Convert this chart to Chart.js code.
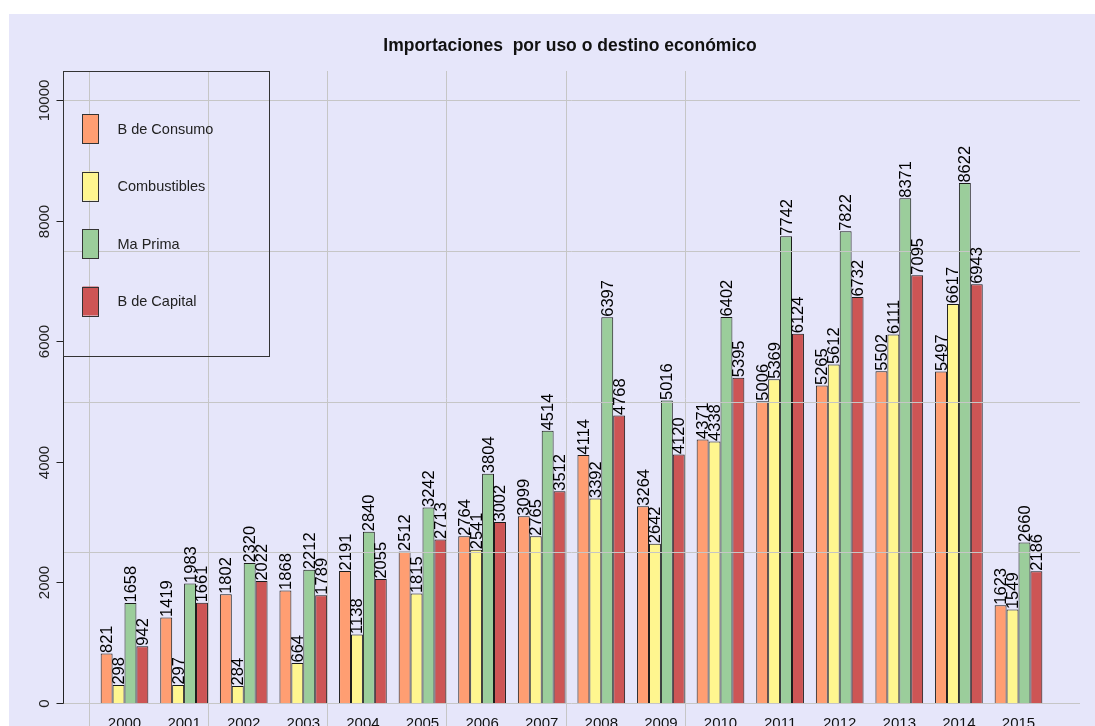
<!DOCTYPE html>
<html><head><meta charset="utf-8">
<script src="https://cdn.jsdelivr.net/npm/chart.js@4.4.1/dist/chart.umd.min.js"></script>
<style>html,body{margin:0;padding:0;background:#fff;overflow:hidden}canvas{display:block}</style>
</head><body>
<canvas id="c" width="1095" height="726"></canvas>
<script>
const years = ['2000','2001','2002','2003','2004','2005','2006','2007','2008','2009','2010','2011','2012','2013','2014','2015'];
const consumo      = [821,1419,1802,1868,2191,2512,2764,3099,4114,3264,4371,5006,5265,5502,5497,1623];
const combustibles = [298,297,284,664,1138,1815,2541,2765,3392,2642,4338,5369,5612,6111,6617,1549];
const maPrima      = [1658,1983,2320,2212,2840,3242,3804,4514,6397,5016,6402,7742,7822,8371,8622,2660];
const capital      = [942,1661,2022,1789,2055,2713,3002,3512,4768,4120,5395,6124,6732,7095,6943,2186];
const seriesNames  = ['B de Consumo','Combustibles','Ma Prima','B de Capital'];
const seriesColors = ['#FF9E72','#FFF68F','#9BCD9B','#CD5555'];
const yTicks = [0,2000,4000,6000,8000,10000];
const hGrid  = [0,2500,5000,7500,10000];
const vGrid  = [0,10,20,30,40,50];
const chartTitle = 'Importaciones  por uso o destino económico';

// barplot coordinates: groups of 4 unit-wide bars separated by one unit
const groupX = years.map((_, i) => 3 + 5 * i);
const allSeries = [consumo, combustibles, maPrima, capital];

const datasets = allSeries.map((vals, k) => ({
  label: seriesNames[k],
  data: vals.map((v, i) => ({x: groupX[i], y: v})),
  backgroundColor: seriesColors[k],
  borderColor: '#1a1a1a',
  borderWidth: 1,
  borderSkipped: 'bottom',
  categoryPercentage: 0.8,
  barPercentage: 1.0
}));

const FONT = '"Liberation Sans", Arial, sans-serif';

const drawPlugin = {
  id: 'rstyle',
  beforeDraw(chart) {
    const ctx = chart.ctx;
    ctx.save();
    ctx.fillStyle = '#ffffff';
    ctx.fillRect(0, 0, chart.width, chart.height);
    ctx.fillStyle = '#E6E6FA';
    ctx.fillRect(9, 14, chart.width - 9, chart.height - 14);
    ctx.restore();
  },
  afterDatasetsDraw(chart) {
    const ctx = chart.ctx;
    const xs = chart.scales.x, ys = chart.scales.y;
    const ca = chart.chartArea;
    ctx.save();
    // grid
    ctx.strokeStyle = '#C6C6C6';
    ctx.lineWidth = 1;
    hGrid.forEach(v => {
      const y = Math.round(ys.getPixelForValue(v)) + 0.5;
      ctx.beginPath(); ctx.moveTo(ca.left, y); ctx.lineTo(ca.right, y); ctx.stroke();
    });
    vGrid.forEach(v => {
      const x = Math.round(xs.getPixelForValue(v)) + 0.5;
      ctx.beginPath(); ctx.moveTo(x, ca.top); ctx.lineTo(x, ca.bottom); ctx.stroke();
    });
    // y axis
    ctx.strokeStyle = '#222';
    const ax = Math.round(ca.left) + 0.5;
    const yTop = Math.round(ys.getPixelForValue(yTicks[yTicks.length - 1])) + 0.5;
    const yBot = Math.round(ys.getPixelForValue(yTicks[0])) + 0.5;
    ctx.beginPath(); ctx.moveTo(ax, yTop); ctx.lineTo(ax, yBot); ctx.stroke();
    ctx.fillStyle = '#222';
    ctx.font = '15px ' + FONT;
    yTicks.forEach(v => {
      const y = Math.round(ys.getPixelForValue(v)) + 0.5;
      ctx.beginPath(); ctx.moveTo(ax - 7, y); ctx.lineTo(ax, y); ctx.stroke();
      ctx.save();
      ctx.translate(ax - 15, y);
      ctx.rotate(-Math.PI / 2);
      ctx.textAlign = 'center';
      ctx.textBaseline = 'alphabetic';
      ctx.fillText(String(v), 0, 0);
      ctx.restore();
    });
    // year labels
    ctx.fillStyle = '#111';
    ctx.font = '15px ' + FONT;
    ctx.textAlign = 'center';
    ctx.textBaseline = 'alphabetic';
    years.forEach((yr, i) => {
      ctx.fillText(yr, xs.getPixelForValue(groupX[i]), 728);
    });
    // value labels
    ctx.fillStyle = '#000';
    ctx.font = '16.5px ' + FONT;
    chart.data.datasets.forEach((ds, k) => {
      const meta = chart.getDatasetMeta(k);
      meta.data.forEach((bar, j) => {
        ctx.save();
        ctx.translate(bar.x + 5.5, bar.y - 0.5);
        ctx.rotate(-Math.PI / 2);
        ctx.textAlign = 'left';
        ctx.textBaseline = 'alphabetic';
        ctx.fillText(String(allSeries[k][j]), 0, 0);
        ctx.restore();
      });
    });
    // legend box
    const lx = Math.round(ca.left) + 0.5, ly = Math.round(ca.top) + 0.5;
    ctx.strokeStyle = '#333';
    ctx.strokeRect(lx, ly, 206, 285);
    ctx.font = '14.5px ' + FONT;
    ctx.textAlign = 'left';
    ctx.textBaseline = 'middle';
    seriesNames.forEach((name, k) => {
      const cy = ly + 57 + k * 57.5;
      ctx.fillStyle = seriesColors[k];
      ctx.fillRect(lx + 19, cy - 14.5, 16, 29);
      ctx.strokeStyle = '#333';
      ctx.strokeRect(lx + 19, Math.round(cy - 14.5) + 0.5, 16, 29);
      ctx.fillStyle = '#222';
      ctx.fillText(name, lx + 54, cy + 1);
    });
    // title
    ctx.fillStyle = '#111';
    ctx.font = 'bold 17.5px ' + FONT;
    ctx.textAlign = 'center';
    ctx.textBaseline = 'alphabetic';
    ctx.fillText(chartTitle, 570, 51);
    ctx.restore();
  }
};

new Chart(document.getElementById('c'), {
  type: 'bar',
  data: { datasets },
  options: {
    responsive: false,
    animation: false,
    devicePixelRatio: 1,
    layout: { padding: { left: 63, right: 15, top: 71, bottom: 0 } },
    plugins: { legend: { display: false }, title: { display: false }, tooltip: { enabled: false } },
    scales: {
      x: { type: 'linear', min: -2.16, max: 83.16, display: false, offset: false },
      y: { type: 'linear', min: -381, max: 10481, display: false }
    }
  },
  plugins: [drawPlugin]
});
</script>
</body></html>
